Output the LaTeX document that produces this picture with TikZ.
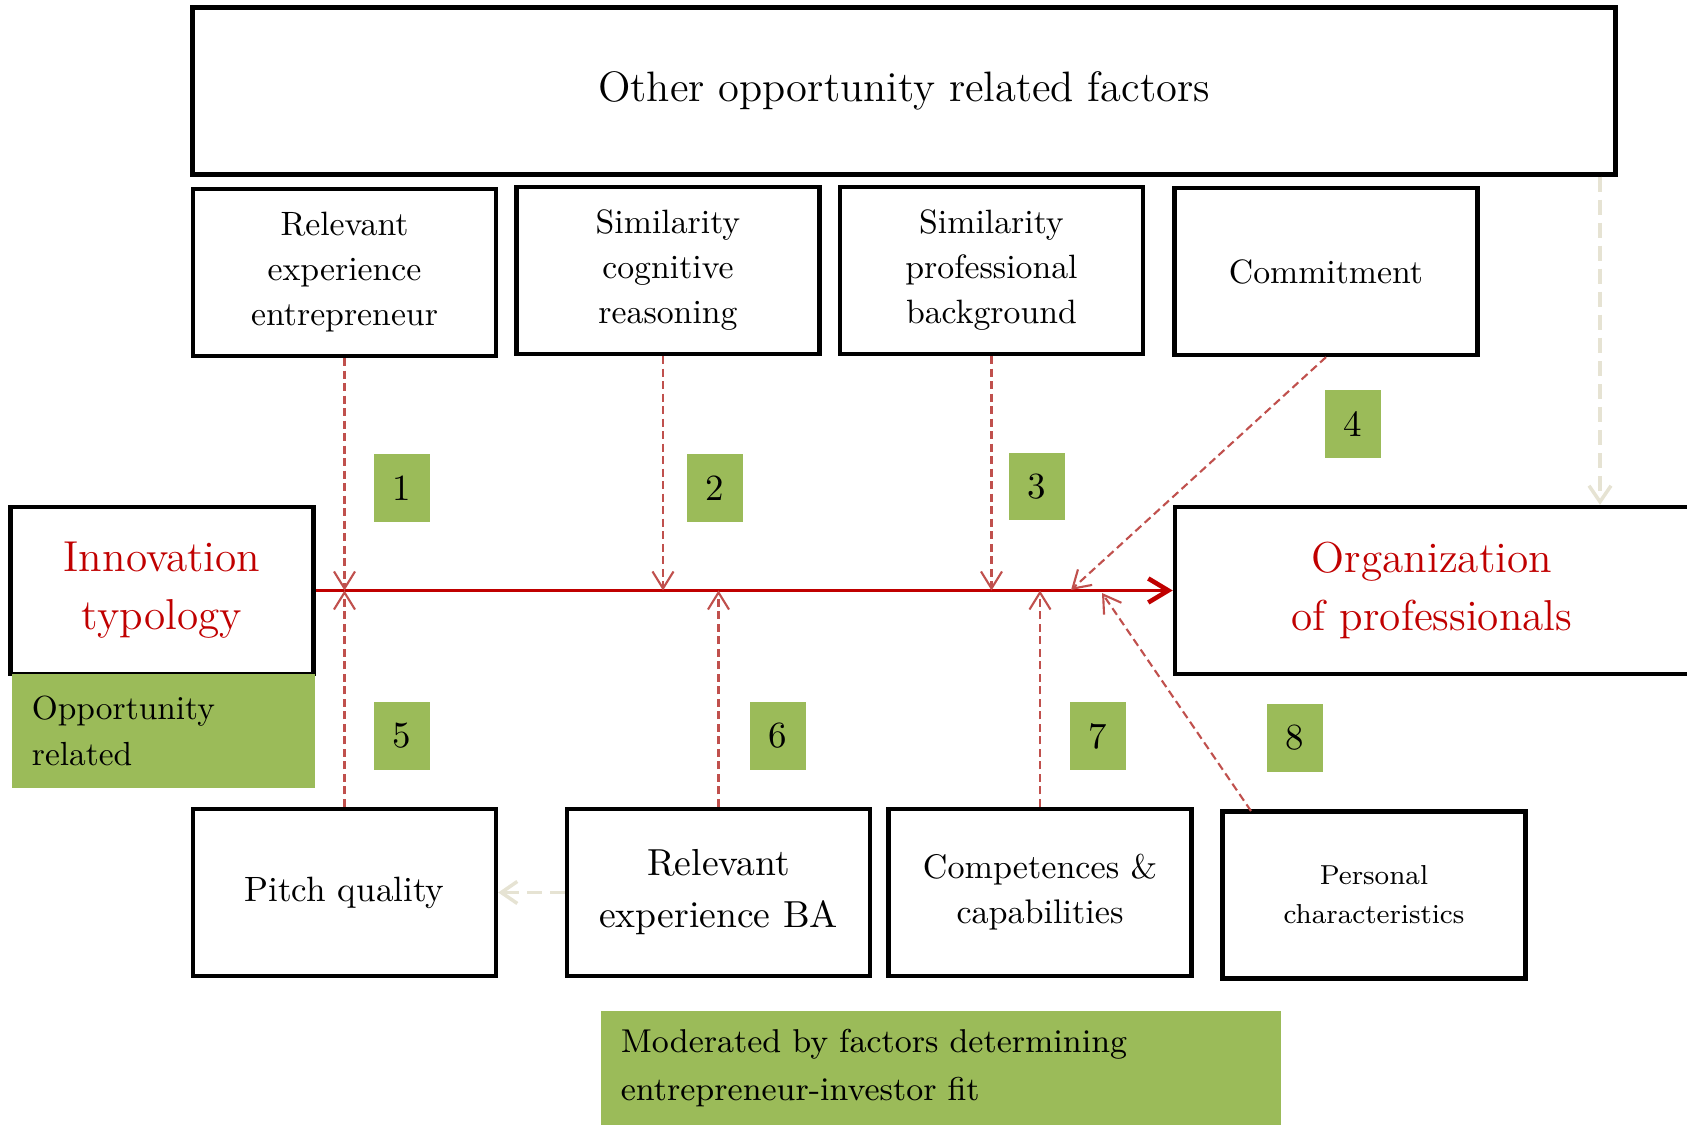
\documentclass[tikz,border=0pt]{standalone}
\usepackage{tikz}
\usetikzlibrary{arrows.meta}
\definecolor{fitred}{HTML}{C00000}
\definecolor{linkred}{HTML}{C0504D}
\definecolor{fitgreen}{HTML}{9BBB59}
\definecolor{faintgrey}{HTML}{E6E3D3}
\newcommand{\FactorFont}[2]{\fontsize{#1}{#2}\selectfont}
\tikzset{
    factor/.style={draw, line width=1.2pt, minimum width=3.03cm, minimum height=1.67cm,
                   align=center, inner sep=0pt, font=\FactorFont{9.6}{12.8}},
    tag/.style={fill=fitgreen, minimum width=0.56cm, minimum height=0.67cm, inner sep=0pt,
                font=\FactorFont{10.5}{12}},
    note/.style={fill=fitgreen, minimum height=1.14cm, inner xsep=0.2cm, align=left},
    link/.style={linkred, line width=0.6pt, dash pattern=on 0.8mm off 0.45mm,
                 -{Straight Barb[length=1.7mm,width=2.1mm]}},
    faint/.style={faintgrey, line width=1pt, dash pattern=on 1.5mm off 0.8mm,
                  -{Straight Barb[length=1.6mm,width=2.2mm]}},
}

\begin{document}
\begin{tikzpicture}[x=0.01cm, y=-0.01cm]
    \useasboundingbox (0,0) rectangle (1687,1125);
    % Top box
    \node (other) [factor, minimum width=14.22cm, font=\FactorFont{12.1}{14}] at (904,91) {Other opportunity related factors};
    % Upper factors
    \node (relexp)  [factor] at (344.5,272.5) {Relevant\\experience\\entrepreneur};
    \node (simcog)  [factor] at (668,270.5)   {Similarity\\cognitive\\reasoning};
    \node (simprof) [factor] at (991.5,270.5) {Similarity\\professional\\background};
    \node (commit)  [factor] at (1326,271.5)  {Commitment};
    % Main boxes
    \node (innov) [factor, text=fitred, font=\FactorFont{12.3}{16.5}] at (162,590.5) {Innovation\\typology};
    \node (org) [factor, minimum width=5.14cm, text=fitred, font=\FactorFont{12.3}{16.5}] at (1432,590.5) {Organization\\of professionals};
    \node (opprel) [note, text width=2.63cm, font=\FactorFont{9.5}{13.3}] at (163.5,731) {Opportunity\\related};
    % Lower factors
    \node (pitch) [factor, font=\FactorFont{10}{12}] at (344.5,892.5) {Pitch quality};
    \node (relba) [factor, font=\FactorFont{10.7}{14.8}] at (718.5,892.5) {Relevant\\experience BA};
    \node (comp)  [factor, font=\FactorFont{9.7}{12.8}] at (1040,892.5) {Competences \&\\capabilities};
    \node (pers)  [factor, font=\FactorFont{7.8}{11.1}] at (1374,895) {Personal\\characteristics};
    \node (moder) [note, text width=6.40cm, font=\FactorFont{9.4}{13.6}] at (941,1068) {Moderated by factors determining\\entrepreneur-investor fit};
    % Number tags
    \node (n1) [tag] at (402,488)    {1};
    \node (n2) [tag] at (715,488)    {2};
    \node (n3) [tag] at (1037,486.5) {3};
    \node (n4) [tag] at (1353,424)   {4};
    \node (n5) [tag] at (402,736)    {5};
    \node (n6) [tag] at (778,736)    {6};
    \node (n7) [tag] at (1098,736)   {7};
    \node (n8) [tag] at (1295,738)   {8};
    % Free ends
    \coordinate (tail2) at (663,0);
    \coordinate (hit4)  at (1071,590);
    \coordinate (hit8)  at (1102,593);
    \coordinate (tail8) at (1251,811);
    \coordinate (faintx) at (1600,0);
    % Main relation
    \draw [fitred, line width=1.1pt, -{Straight Barb[length=2mm,width=2.4mm,line width=1.3pt]}] (innov.east) -- (org.west);
    % Moderating links
    \draw [link] (relexp.south) -- (relexp.south |- innov.east);
    \draw [link] (simcog.south -| tail2) -- (innov.east -| tail2);
    \draw [link] (simprof.south) -- (simprof.south |- innov.east);
    \draw [link] (commit.south) -- (hit4);
    \draw [link] (pitch.north) -- (pitch.north |- innov.east);
    \draw [link] (relba.north) -- (relba.north |- innov.east);
    \draw [link] (comp.north) -- (comp.north |- innov.east);
    \draw [link] (tail8) -- (hit8);
    % Faint links
    \draw [faint] (other.south -| faintx) -- (org.north -| faintx);
    \draw [faint] (relba.west) -- (pitch.east);
\end{tikzpicture}
\end{document}
